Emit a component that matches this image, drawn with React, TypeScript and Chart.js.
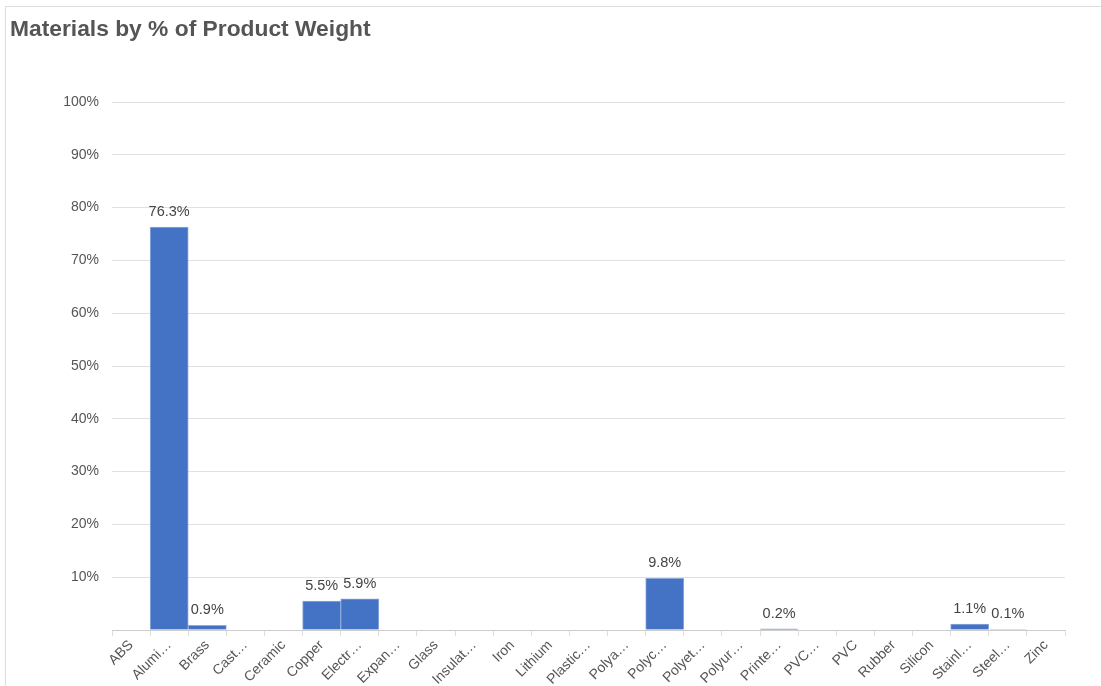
import React, { useEffect, useRef } from "react";
import { Chart, registerables } from "chart.js";

Chart.register(...registerables);

const TITLE = "Materials by % of Product Weight";
const categories = [
  "ABS", "Alumi…", "Brass", "Cast…", "Ceramic", "Copper", "Electr…", "Expan…",
  "Glass", "Insulat…", "Iron", "Lithium", "Plastic…", "Polya…", "Polyc…", "Polyet…",
  "Polyur…", "Printe…", "PVC…", "PVC", "Rubber", "Silicon", "Stainl…", "Steel…", "Zinc",
];
const percentValues = [
  0, 76.3, 0.9, 0, 0, 5.5, 5.9, 0,
  0, 0, 0, 0, 0, 0, 9.8, 0,
  0, 0.2, 0, 0, 0, 0, 1.1, 0.1, 0,
];
const yTicks = [0, 10, 20, 30, 40, 50, 60, 70, 80, 90, 100];

const FONT = "'Liberation Sans', Arial, sans-serif";

const titlePlugin = {
  id: "customTitle",
  afterDraw(chart: any) {
    const ctx = chart.ctx;
    ctx.save();
    ctx.font = `bold 22.8px ${FONT}`;
    ctx.fillStyle = "#555555";
    ctx.textAlign = "left";
    ctx.textBaseline = "middle";
    ctx.fillText(TITLE, 10, 30);
    ctx.restore();
  },
};

const labelPlugin = {
  id: "barLabels",
  afterDatasetsDraw(chart: any) {
    const ctx = chart.ctx;
    const meta = chart.getDatasetMeta(0);
    ctx.save();
    ctx.font = `14.5px ${FONT}`;
    ctx.fillStyle = "#444444";
    ctx.textAlign = "center";
    ctx.textBaseline = "alphabetic";
    meta.data.forEach((bar: any, i: number) => {
      const v = percentValues[i];
      if (!v) return;
      ctx.fillText(v.toFixed(1) + "%", bar.x, bar.y - 11);
    });
    ctx.restore();
  },
};

export default function App() {
  const ref = useRef<HTMLCanvasElement>(null);
  useEffect(() => {
    if (!ref.current) return;
    const chart = new Chart(ref.current, {
      type: "bar",
      data: {
        labels: categories,
        datasets: [
          {
            data: percentValues,
            backgroundColor: "#4472c4",
            borderColor: "#8eaadb",
            borderWidth: 1,
            barPercentage: 1,
            categoryPercentage: 1,
          },
        ],
      },
      options: {
        responsive: false,
        animation: false,
        layout: { padding: { left: 0, right: 36, top: 102, bottom: 0 } },
        plugins: {
          legend: { display: false },
          tooltip: { enabled: false },
          title: { display: false },
        },
        scales: {
          x: {
            offset: true,
            grid: {
              offset: true,
              drawOnChartArea: false,
              drawTicks: true,
              tickLength: 6,
              color: "#dddddd",
            },
            border: { display: true, color: "#cccccc" },
            ticks: {
              autoSkip: false,
              maxRotation: 45,
              minRotation: 45,
              padding: 1,
              color: "#555555",
              font: { family: FONT, size: 14 },
            },
            afterFit(scale: any) {
              scale.height = 56;
            },
          },
          y: {
            min: 0,
            max: 100,
            afterBuildTicks(scale: any) {
              scale.ticks = yTicks.map((v) => ({ value: v }));
            },
            grid: { color: "#e0e0e0", drawTicks: false },
            border: { display: false },
            ticks: {
              padding: 13,
              color: "#555555",
              font: { family: FONT, size: 14 },
              callback: (v: any) => (Number(v) === 0 ? "" : v + "%"),
            },
            afterFit(scale: any) {
              scale.width = 112;
            },
          },
        },
      },
      plugins: [titlePlugin, labelPlugin],
    });
    return () => chart.destroy();
  }, []);

  return (
    <div style={{ position: "fixed", left: 0, top: 0, width: 1101, height: 686, background: "#fff", overflow: "hidden" }}>
      <div
        style={{
          position: "absolute",
          left: 5,
          top: 6,
          width: 1200,
          height: 800,
          border: "1px solid #dddddd",
        }}
      />
      <canvas ref={ref} width={1101} height={686} style={{ position: "absolute", left: 0, top: 0 }} />
    </div>
  );
}
